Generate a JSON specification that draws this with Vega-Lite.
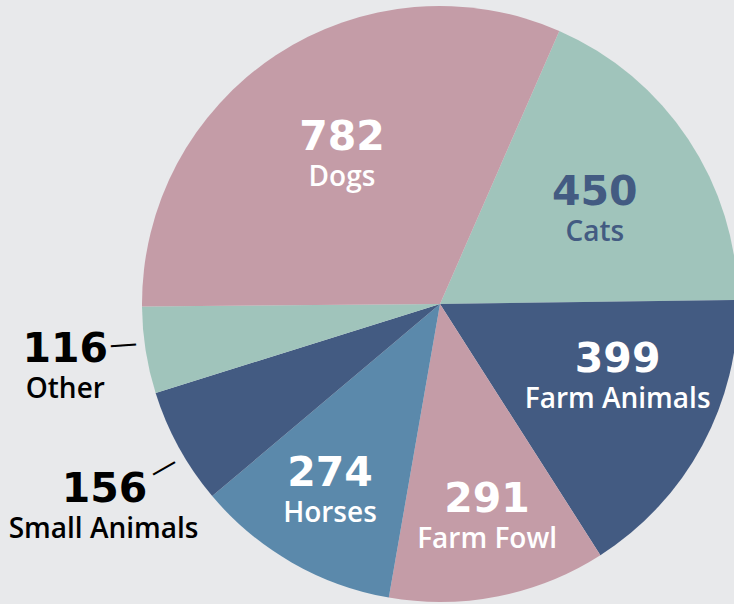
{
  "$schema": "https://vega.github.io/schema/vega-lite/v6.json",
  "width": 588,
  "height": 600,
  "autosize": {"type": "none"},
  "padding": {"left": 146, "top": 4, "right": 0, "bottom": 0},
  "background": "#e8e9eb",
  "view": {"stroke": null},
  "data": {
    "values": [
      {"category": "Cats", "value": 450, "rank": 1},
      {"category": "Farm Animals", "value": 399, "rank": 2},
      {"category": "Farm Fowl", "value": 291, "rank": 3},
      {"category": "Horses", "value": 274, "rank": 4},
      {"category": "Small Animals", "value": 156, "rank": 5},
      {"category": "Other", "value": 116, "rank": 6},
      {"category": "Dogs", "value": 782, "rank": 7}
    ]
  },
  "encoding": {
    "theta": {"field": "value", "type": "quantitative", "stack": true, "scale": {"range": [0.4119, 6.6951]}},
    "order": {"field": "rank", "type": "quantitative"}
  },
  "layer": [
    {
      "mark": {"type": "arc", "radius": 298, "stroke": null},
      "encoding": {
        "color": {
          "field": "category", "type": "nominal", "legend": null,
          "scale": {
            "domain": ["Dogs", "Cats", "Farm Animals", "Farm Fowl", "Horses", "Small Animals", "Other"],
            "range": ["#c49ca7", "#a0c4bb", "#435b82", "#c49ca7", "#5b89ab", "#435b82", "#a0c4bb"]
          }
        }
      }
    },
    {
      "mark": {"type": "text", "font": "DejaVu Sans", "fontWeight": "bold", "fontSize": 41, "align": "center", "baseline": "alphabetic", "dx": 0, "dy": -5.5, "fill": "#ffffff"},
      "encoding": {"radius": {"value": 178}, "text": {"field": "value", "type": "quantitative", "condition": {"test": "datum.category !== 'Dogs'", "value": ""}}}
    },
    {
      "mark": {"type": "text", "font": "Open Sans", "fontWeight": 600, "fontSize": 28, "align": "center", "baseline": "alphabetic", "dx": 0, "dy": 30.5, "fill": "#ffffff"},
      "encoding": {"radius": {"value": 178}, "text": {"field": "category", "type": "nominal", "condition": {"test": "datum.category !== 'Dogs'", "value": ""}}}
    },
    {
      "mark": {"type": "text", "font": "DejaVu Sans", "fontWeight": "bold", "fontSize": 41, "align": "center", "baseline": "alphabetic", "dx": 4, "dy": 1, "fill": "#435b82"},
      "encoding": {"radius": {"value": 181}, "text": {"field": "value", "type": "quantitative", "condition": {"test": "datum.category !== 'Cats'", "value": ""}}}
    },
    {
      "mark": {"type": "text", "font": "Open Sans", "fontWeight": 600, "fontSize": 28, "align": "center", "baseline": "alphabetic", "dx": 4, "dy": 37, "fill": "#435b82"},
      "encoding": {"radius": {"value": 181}, "text": {"field": "category", "type": "nominal", "condition": {"test": "datum.category !== 'Cats'", "value": ""}}}
    },
    {
      "mark": {"type": "text", "font": "DejaVu Sans", "fontWeight": "bold", "fontSize": 41, "align": "center", "baseline": "alphabetic", "dx": 9, "dy": -23, "fill": "#ffffff"},
      "encoding": {"radius": {"value": 191.6}, "text": {"field": "value", "type": "quantitative", "condition": {"test": "datum.category !== 'Farm Animals'", "value": ""}}}
    },
    {
      "mark": {"type": "text", "font": "Open Sans", "fontWeight": 600, "fontSize": 28, "align": "center", "baseline": "alphabetic", "dx": 9, "dy": 13, "fill": "#ffffff"},
      "encoding": {"radius": {"value": 191.6}, "text": {"field": "category", "type": "nominal", "condition": {"test": "datum.category !== 'Farm Animals'", "value": ""}}}
    },
    {
      "mark": {"type": "text", "font": "DejaVu Sans", "fontWeight": "bold", "fontSize": 41, "align": "center", "baseline": "alphabetic", "dx": 4, "dy": -6.5, "fill": "#ffffff"},
      "encoding": {"radius": {"value": 219.2}, "text": {"field": "value", "type": "quantitative", "condition": {"test": "datum.category !== 'Farm Fowl'", "value": ""}}}
    },
    {
      "mark": {"type": "text", "font": "Open Sans", "fontWeight": 600, "fontSize": 28, "align": "center", "baseline": "alphabetic", "dx": 4, "dy": 29.5, "fill": "#ffffff"},
      "encoding": {"radius": {"value": 219.2}, "text": {"field": "category", "type": "nominal", "condition": {"test": "datum.category !== 'Farm Fowl'", "value": ""}}}
    },
    {
      "mark": {"type": "text", "font": "DejaVu Sans", "fontWeight": "bold", "fontSize": 41, "align": "center", "baseline": "alphabetic", "dx": -2, "dy": -6.5, "fill": "#ffffff"},
      "encoding": {"radius": {"value": 216.9}, "text": {"field": "value", "type": "quantitative", "condition": {"test": "datum.category !== 'Horses'", "value": ""}}}
    },
    {
      "mark": {"type": "text", "font": "Open Sans", "fontWeight": 600, "fontSize": 28, "align": "center", "baseline": "alphabetic", "dx": -2, "dy": 29.5, "fill": "#ffffff"},
      "encoding": {"radius": {"value": 216.9}, "text": {"field": "category", "type": "nominal", "condition": {"test": "datum.category !== 'Horses'", "value": ""}}}
    },
    {
      "mark": {"type": "text", "font": "DejaVu Sans", "fontWeight": "bold", "fontSize": 41, "align": "center", "baseline": "alphabetic", "dx": 8, "dy": 9, "fill": "#000000"},
      "encoding": {"radius": {"value": 391.8}, "text": {"field": "value", "type": "quantitative", "condition": {"test": "datum.category !== 'Small Animals'", "value": ""}}}
    },
    {
      "mark": {"type": "text", "font": "Open Sans", "fontWeight": 600, "fontSize": 28, "align": "center", "baseline": "alphabetic", "dx": 7, "dy": 45, "fill": "#000000"},
      "encoding": {"radius": {"value": 391.8}, "text": {"field": "category", "type": "nominal", "condition": {"test": "datum.category !== 'Small Animals'", "value": ""}}}
    },
    {
      "mark": {"type": "text", "font": "DejaVu Sans", "fontWeight": "bold", "fontSize": 41, "align": "center", "baseline": "alphabetic", "dx": 1, "dy": -1, "fill": "#000000"},
      "encoding": {"radius": {"value": 380.3}, "text": {"field": "value", "type": "quantitative", "condition": {"test": "datum.category !== 'Other'", "value": ""}}}
    },
    {
      "mark": {"type": "text", "font": "Open Sans", "fontWeight": 600, "fontSize": 28, "align": "center", "baseline": "alphabetic", "dx": 1, "dy": 35, "fill": "#000000"},
      "encoding": {"radius": {"value": 380.3}, "text": {"field": "category", "type": "nominal", "condition": {"test": "datum.category !== 'Other'", "value": ""}}}
    },
    {
      "mark": {"type": "text", "font": "DejaVu Sans", "fontSize": 28, "align": "center", "baseline": "middle", "angle": -4, "dx": -0.8, "dy": -8.6, "fill": "#000000"},
      "encoding": {"radius": {"value": 319}, "text": {"value": "—", "condition": {"test": "datum.category !== 'Other'", "value": ""}}}
    },
    {
      "mark": {"type": "text", "font": "DejaVu Sans", "fontSize": 28, "align": "center", "baseline": "middle", "angle": -30, "dx": -0.5, "dy": 10.8, "fill": "#000000"},
      "encoding": {"radius": {"value": 320.8}, "text": {"value": "—", "condition": {"test": "datum.category !== 'Small Animals'", "value": ""}}}
    }
  ]
}
